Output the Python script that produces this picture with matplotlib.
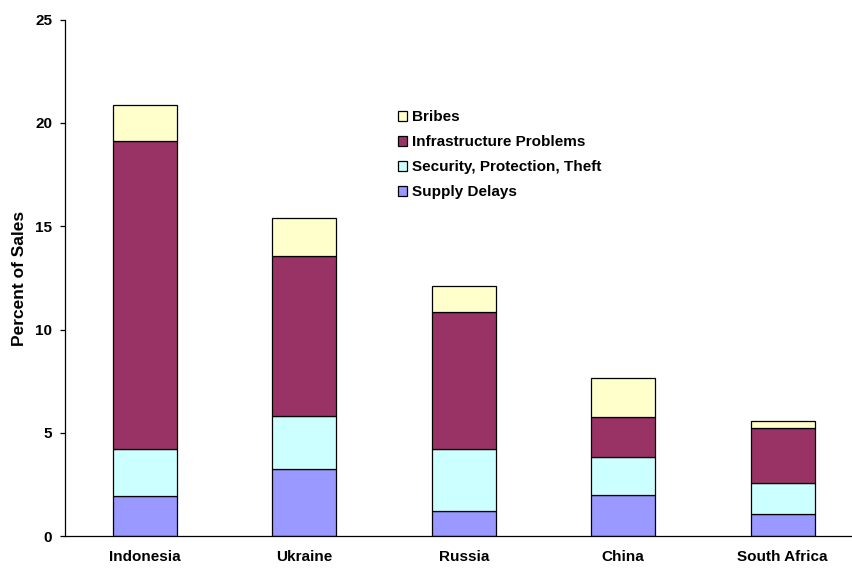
import matplotlib
matplotlib.use("Agg")
import matplotlib.pyplot as plt
import numpy as np

plt.rcParams['font.family'] = ['Liberation Sans', 'DejaVu Sans']

countries = ["Indonesia", "Ukraine", "Russia", "China", "South Africa"]
supply_delays = [1.94, 3.24, 1.22, 2.00, 1.09]
security = [2.27, 2.57, 2.99, 1.82, 1.50]
infrastructure = [14.90, 7.77, 6.64, 1.94, 2.65]
bribes = [1.76, 1.83, 1.24, 1.91, 0.32]

series = [
    ("Supply Delays", supply_delays, "#9999FF"),
    ("Security, Protection, Theft", security, "#CCFFFF"),
    ("Infrastructure Problems", infrastructure, "#993366"),
    ("Bribes", bribes, "#FFFFCC"),
]

fig = plt.figure(figsize=(8.52, 5.68), dpi=100)
ax = fig.add_axes([0.0763, 0.0558, 0.936, 0.9097])

x = np.arange(len(countries))
bottom = np.zeros(len(countries))
handles = []
for name, vals, color in series:
    b = ax.bar(x, vals, width=0.40, bottom=bottom, color=color,
               edgecolor="black", linewidth=0.9, label=name)
    handles.append(b)
    bottom += np.array(vals)

ax.set_xlim(-0.5, len(countries) - 0.5)
ax.set_ylim(0, 25)
ax.set_yticks([0, 5, 10, 15, 20, 25])
ax.set_xticks(x)
ax.set_xticklabels(countries, fontsize=11, fontweight="bold")
ax.tick_params(axis="x", length=0, pad=10)
ax.tick_params(axis="y", direction="out", length=3.6, width=0.9, pad=5.5,
               labelsize=11)
for lbl in ax.get_yticklabels():
    lbl.set_fontweight("bold")

for side in ("top", "right"):
    ax.spines[side].set_visible(False)
for side in ("left", "bottom"):
    ax.spines[side].set_linewidth(0.9)
    ax.spines[side].set_color("black")

ax.set_ylabel("Percent of Sales", fontsize=12.5, fontweight="bold")
ax.yaxis.set_label_coords(-0.048, 0.5)

leg = fig.legend(handles[::-1], [s[0] for s in series][::-1],
                 loc="upper left", bbox_to_anchor=(0.467, 0.806),
                 frameon=False, prop={"weight": "bold", "size": 11},
                 handlelength=0.6, handleheight=0.6, handletextpad=0.3,
                 labelspacing=0.72, borderpad=0, borderaxespad=0)

fig.savefig("out.png", dpi=100)
